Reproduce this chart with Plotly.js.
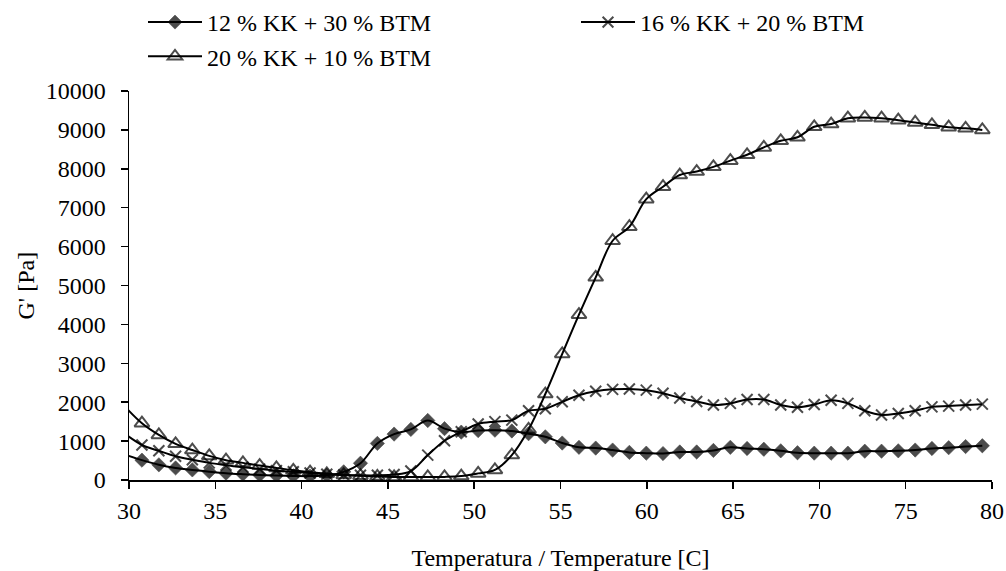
<!DOCTYPE html>
<html><head><meta charset="utf-8">
<script src="https://cdn.plot.ly/plotly-3.0.1.min.js"></script>
<style>html,body{margin:0;padding:0;background:#fff}#chart{width:1006px;height:571px}</style>
</head><body><div id="chart"></div>
<script>
// Temperature [C] of each measurement (first one lies just left of the axis and is clipped)
const temperature = [29.78, 30.75, 31.73, 32.70, 33.67, 34.65, 35.62, 36.60, 37.57, 38.54,
  39.52, 40.49, 41.46, 42.44, 43.41, 44.39, 45.36, 46.33, 47.31, 48.28,
  49.25, 50.23, 51.20, 52.18, 53.15, 54.12, 55.10, 56.07, 57.04, 58.02,
  58.99, 59.97, 60.94, 61.91, 62.89, 63.86, 64.84, 65.81, 66.78, 67.76,
  68.73, 69.70, 70.68, 71.65, 72.63, 73.60, 74.57, 75.55, 76.52, 77.49,
  78.47, 79.44];
// G' [Pa]
const g12kk30btm = [650, 510, 390, 310, 260, 215, 175, 150, 130, 115,
  105, 100, 120, 210, 430, 940, 1180, 1300, 1530, 1320,
  1230, 1270, 1280, 1260, 1190, 1110, 950, 840, 820, 770,
  710, 690, 680, 720, 720, 760, 840, 810, 790, 750,
  700, 690, 690, 690, 740, 740, 750, 770, 810, 830,
  860, 880];
const g16kk20btm = [1180, 900, 750, 610, 520, 440, 380, 330, 280, 240,
  210, 180, 150, 130, 120, 120, 140, 230, 640, 1010,
  1240, 1440, 1500, 1540, 1780, 1830, 2010, 2180, 2280, 2330,
  2340, 2310, 2230, 2110, 2020, 1930, 1970, 2070, 2070, 1930,
  1870, 1940, 2050, 1970, 1780, 1670, 1710, 1780, 1880, 1900,
  1930, 1950];
const g20kk10btm = [1880, 1460, 1160, 930, 770, 620, 510, 440, 370, 310,
  250, 200, 160, 130, 110, 90, 80, 80, 80, 80,
  100, 170, 260, 640, 1300, 2210, 3240, 4250, 5210, 6150,
  6510, 7220, 7540, 7840, 7930, 8050, 8210, 8360, 8550, 8720,
  8810, 9080, 9150, 9300, 9320, 9300, 9250, 9190, 9130, 9070,
  9040, 9000];
const seriesNames = ["12 % KK + 30 % BTM", "16 % KK + 20 % BTM", "20 % KK + 10 % BTM"];
const xTicks = [30, 35, 40, 45, 50, 55, 60, 65, 70, 75, 80];
const yTicks = [0, 1000, 2000, 3000, 4000, 5000, 6000, 7000, 8000, 9000, 10000];
const xTitle = 'Temperatura / Temperature [C]';
const yTitle = "G' [Pa]";

const FONT = "Liberation Serif, Times New Roman, serif";
const xMin = 30;
function sizes(s) { return temperature.map(t => t < xMin ? 0 : s); }

const W = 1006, H = 571;
const M = {l: 129, r: 14, t: 91, b: 91, autoexpand: false};
const plotW = W - M.l - M.r, plotH = H - M.t - M.b;
// legend / title positions in pixels converted to paper coordinates
const legX1 = (143 - M.l) / plotW, legX2 = (576 - M.l) / plotW;
const legY = 1 + M.t / plotH;
const yTitleX = (25 - M.l) / plotW;

const common = {
  type: 'scatter', mode: 'lines+markers', x: temperature,
  line: {color: '#000', width: 2, shape: 'spline', smoothing: 1}
};
const traces = [
  Object.assign({}, common, {name: seriesNames[0], y: g12kk30btm, legend: 'legend',
    marker: {symbol: 'diamond', size: sizes(11), color: '#000', line: {width: 0.6, color: '#000'}}}),
  Object.assign({}, common, {name: seriesNames[1], y: g16kk20btm, legend: 'legend2',
    marker: {symbol: 'x-thin', size: sizes(11), color: '#000', line: {width: 2, color: '#000'}}}),
  Object.assign({}, common, {name: seriesNames[2], y: g20kk10btm, legend: 'legend',
    marker: {symbol: 'triangle-up-open', size: sizes(13), color: '#000', line: {width: 2, color: '#000'}}})
];

const legendBase = {
  orientation: 'v', xref: 'paper', yref: 'paper',
  y: legY, xanchor: 'left', yanchor: 'top', itemwidth: 54,
  font: {family: FONT, size: 24, color: '#000'},
  bgcolor: 'rgba(0,0,0,0)', tracegroupgap: 0
};

const layout = {
  width: W, height: H,
  margin: M,
  paper_bgcolor: '#fff', plot_bgcolor: '#fff',
  font: {family: FONT, size: 24, color: '#000'},
  showlegend: true,
  legend: Object.assign({}, legendBase, {x: legX1}),
  legend2: Object.assign({}, legendBase, {x: legX2}),
  xaxis: {
    range: [30, 80], tickvals: xTicks, ticktext: xTicks.map(String),
    ticks: 'outside', ticklen: 7, tickwidth: 1.5, tickcolor: '#000',
    showline: true, linewidth: 1.5, linecolor: '#000', mirror: false,
    showgrid: false, zeroline: false, ticklabelstandoff: 2,
    tickfont: {family: FONT, size: 24},
    title: {text: xTitle, standoff: 28, font: {family: FONT, size: 24}}
  },
  yaxis: {
    range: [0, 10000], tickvals: yTicks, ticktext: yTicks.map(String),
    ticks: 'outside', ticklen: 7, tickwidth: 1.5, tickcolor: '#000',
    showline: true, linewidth: 1.5, linecolor: '#000',
    showgrid: false, zeroline: false, ticklabelstandoff: 10,
    tickfont: {family: FONT, size: 24}
  },
  annotations: [{
    text: yTitle, xref: 'paper', yref: 'paper', x: yTitleX, y: 0.5,
    xanchor: 'center', yanchor: 'middle', textangle: -90, showarrow: false,
    font: {family: FONT, size: 24, color: '#000'}
  }]
};
Plotly.newPlot('chart', traces, layout, {displayModeBar: false, staticPlot: true});
</script>
</body></html>
